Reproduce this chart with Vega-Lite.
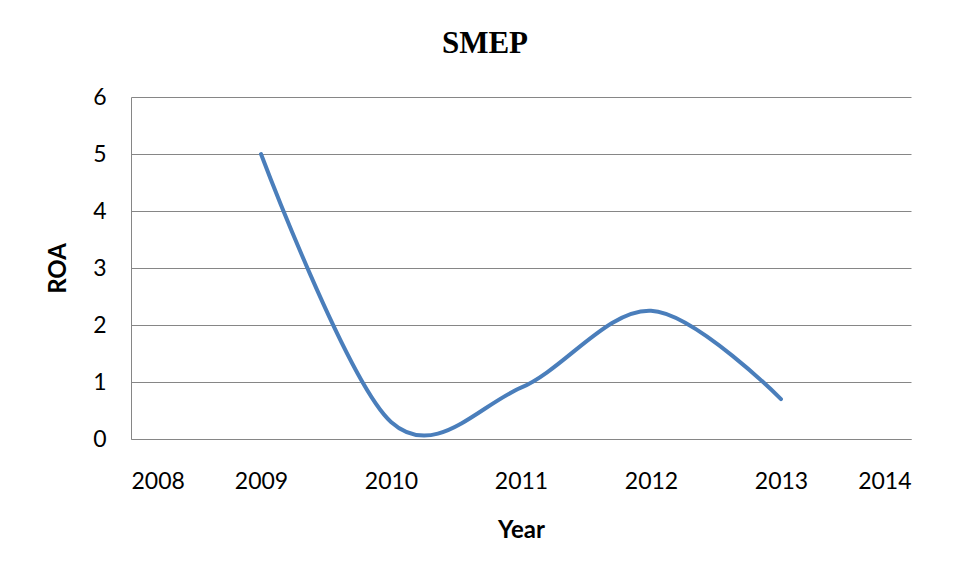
{
  "$schema": "https://vega.github.io/schema/vega-lite/v6.json",
  "width": 780,
  "height": 342,
  "autosize": "none",
  "padding": {"left": 131, "top": 97, "right": 47, "bottom": 141},
  "background": "white",
  "title": {
    "text": "SMEP",
    "font": "Liberation Serif",
    "fontSize": 31,
    "fontWeight": "bold",
    "color": "black",
    "anchor": "middle",
    "dx": -36,
    "offset": 26
  },
  "data": {
    "values": [
      {"Year": 2009, "ROA": 5.0},
      {"Year": 2010, "ROA": 0.3},
      {"Year": 2011, "ROA": 0.9},
      {"Year": 2012, "ROA": 2.25},
      {"Year": 2013, "ROA": 0.7}
    ]
  },
  "mark": {"type": "line", "interpolate": "cardinal", "color": "#4a7ebb", "strokeWidth": 4, "strokeCap": "round"},
  "encoding": {
    "x": {
      "field": "Year",
      "type": "quantitative",
      "scale": {"domain": [2008, 2014], "nice": false, "zero": false},
      "axis": {
        "values": [2008, 2009, 2010, 2011, 2012, 2013, 2014],
        "format": "d",
        "grid": false,
        "ticks": false,
        "domainColor": "#868686",
        "domainWidth": 1,
        "labelFont": "Lato",
        "labelFontSize": 23,
        "labelColor": "black",
        "labelPadding": 31,
        "title": "Year",
        "titleFont": "Lato",
        "titleFontSize": 24,
        "titleFontWeight": "bold",
        "titleColor": "black",
        "titlePadding": 25
      }
    },
    "y": {
      "field": "ROA",
      "type": "quantitative",
      "scale": {"domain": [0, 6], "nice": false},
      "axis": {
        "values": [0, 1, 2, 3, 4, 5, 6],
        "grid": true,
        "gridColor": "#868686",
        "gridWidth": 1,
        "ticks": false,
        "domainColor": "#868686",
        "labelFont": "Lato",
        "labelFontSize": 23,
        "labelColor": "black",
        "labelPadding": 25,
        "title": "ROA",
        "titleFont": "Lato",
        "titleFontSize": 24,
        "titleFontWeight": "bold",
        "titleColor": "black",
        "titlePadding": 22
      }
    }
  },
  "config": {"view": {"stroke": null}}
}
